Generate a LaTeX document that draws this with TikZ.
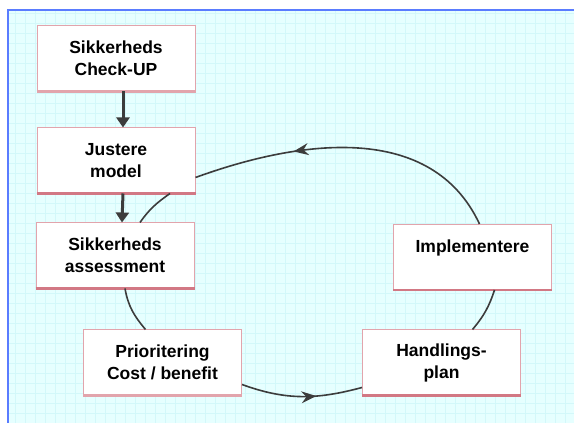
\documentclass[tikz,border=0pt]{standalone}
\usepackage{fontspec}
\setmainfont{Liberation Sans}
\usetikzlibrary{arrows.meta,decorations.markings}
\definecolor{bgcyan}{HTML}{E6FFFF}
\definecolor{gridcyan}{HTML}{D3F8FA}
\definecolor{frameblue}{HTML}{5A7CFF}
\definecolor{boxpink}{HTML}{E2A4AC}
\definecolor{boxred}{HTML}{D27884}
\definecolor{arrgray}{HTML}{3C3C3C}
\begin{document}
\begin{tikzpicture}[x=1pt,y=1pt,
    stepbox/.style={draw=boxpink,line width=1pt,fill=white,minimum width=158pt,
      minimum height=65pt,align=center,inner sep=0pt,
      font=\bfseries\fontsize{17.5}{22}\selectfont},
    down/.style={arrgray,line width=3pt,-{Triangle[length=10pt,width=13pt]}},
    cycle/.style={arrgray,line width=1.6pt},
    midarrow/.style={postaction={decorate},decoration={markings,
      mark=at position #1 with {\arrow{Stealth[length=15pt,width=12pt,inset=5pt]}}}}]
  \useasboundingbox (0,0) rectangle (574,423);
  % background sheet
  \fill[bgcyan] (8,0) rectangle (574,413);
  \draw[gridcyan,line width=0.7pt,step=10,xshift=5pt] (3,0) grid (569,413);
  \draw[frameblue,line width=2pt] (8,0) -- (8,413) -- (574,413);

  \node[stepbox] (chk) at (116,364.5) {Sikkerheds\\Check-UP};
  \node[stepbox] (jus) at (116,262.5) {Justere\\model};
  \node[stepbox] (ass) at (115,167.5) {Sikkerheds\\assessment};
  \node[stepbox] (pri) at (162.5,60.5) {Prioritering\\Cost / benefit};
  \node[stepbox] (han) at (441.5,60.5) {Handlings-\\plan};
  \node[stepbox] (imp) at (472.5,166) {Implementere\\~};
  \foreach \n in {jus,ass,han,imp}
    \draw[boxred,line width=2.5pt] (\n.south west) -- (\n.south east);
  \foreach \n in {chk,pri}
    \draw[boxpink,line width=2.5pt] (\n.south west) -- (\n.south east);

  % straight steps
  \draw[down] ([xshift=7pt]chk.south) -- ([xshift=7pt]jus.north);
  \draw[down] ([xshift=7pt]jus.south) -- ([xshift=7pt]ass.north);

  % the cycle
  \draw[cycle,midarrow=0.68] ([xshift=7pt]imp.north) to[out=115,in=20] ([yshift=-17pt]jus.east);
  \draw[cycle] ([xshift=54pt]jus.south) to[out=215,in=55] ([xshift=25pt]ass.north);
  \draw[cycle] ([xshift=10pt]ass.south) to[out=280,in=130] ([xshift=-17pt]pri.north);
  \draw[cycle,midarrow=0.62] ([yshift=-22pt]pri.east) to[out=-20,in=195] ([yshift=-25pt]han.west);
  \draw[cycle] ([xshift=31pt]han.north) to[out=50,in=252] ([xshift=22pt]imp.south);
\end{tikzpicture}
\end{document}
